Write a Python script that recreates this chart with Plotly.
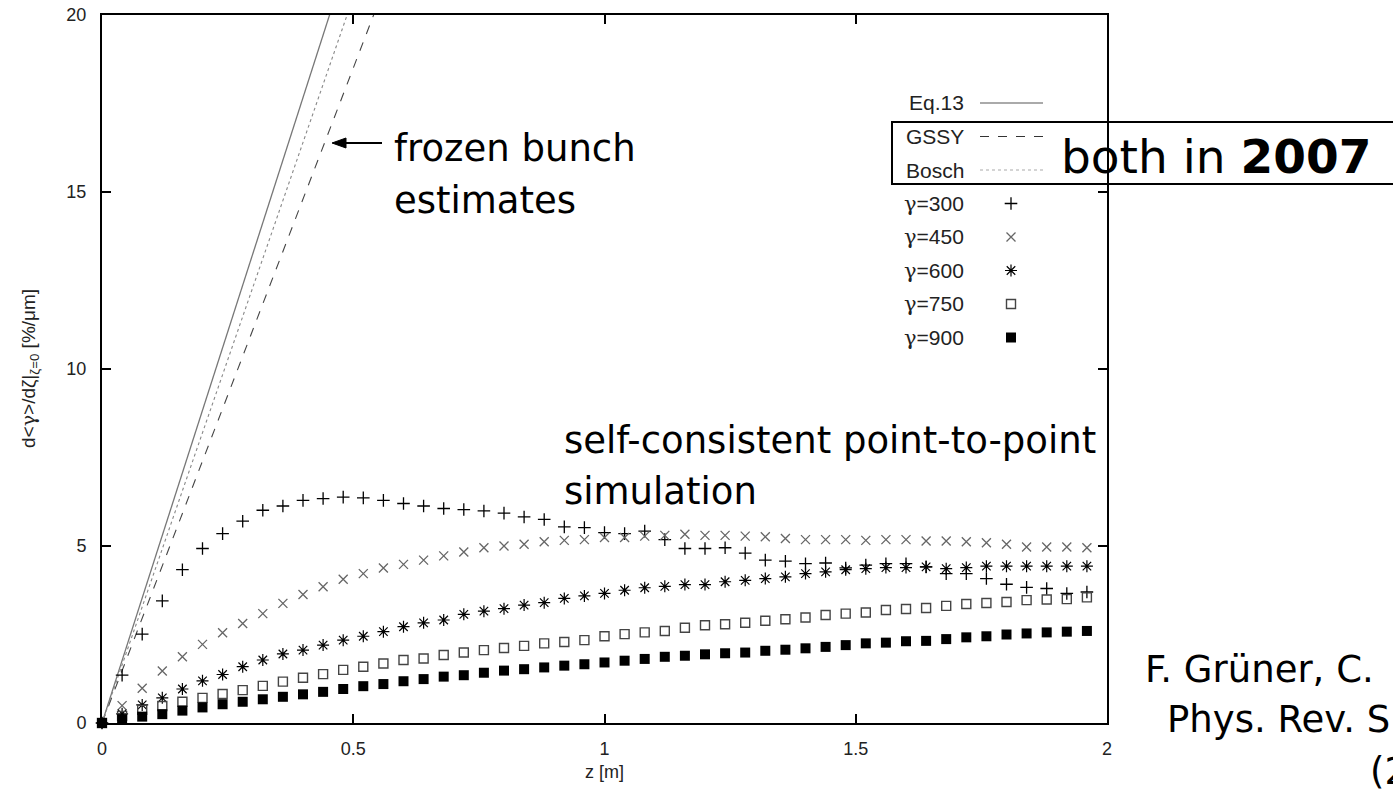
import plotly.graph_objects as go

# ---------------- data ----------------
z = [0.00, 0.04, 0.08, 0.12, 0.16, 0.20, 0.24, 0.28, 0.32, 0.36,
     0.40, 0.44, 0.48, 0.52, 0.56, 0.60, 0.64, 0.68, 0.72, 0.76,
     0.80, 0.84, 0.88, 0.92, 0.96, 1.00, 1.04, 1.08, 1.12, 1.16,
     1.20, 1.24, 1.28, 1.32, 1.36, 1.40, 1.44, 1.48, 1.52, 1.56,
     1.60, 1.64, 1.68, 1.72, 1.76, 1.80, 1.84, 1.88, 1.92, 1.96]

g300 = [0.00, 1.35, 2.51, 3.45, 4.33, 4.93, 5.35, 5.70, 6.01, 6.13,
        6.29, 6.34, 6.38, 6.36, 6.29, 6.20, 6.13, 6.06, 6.03, 5.99,
        5.93, 5.82, 5.75, 5.54, 5.52, 5.38, 5.35, 5.42, 5.18, 4.93,
        4.93, 4.95, 4.80, 4.60, 4.57, 4.50, 4.52, 4.38, 4.46, 4.50,
        4.50, 4.41, 4.22, 4.22, 4.08, 3.92, 3.83, 3.80, 3.66, 3.70]

g450 = [0.00, 0.49, 0.98, 1.47, 1.87, 2.22, 2.55, 2.81, 3.09, 3.38,
        3.63, 3.85, 4.06, 4.22, 4.38, 4.48, 4.60, 4.72, 4.83, 4.95,
        5.00, 5.05, 5.12, 5.16, 5.18, 5.24, 5.24, 5.28, 5.30, 5.33,
        5.30, 5.30, 5.28, 5.26, 5.21, 5.18, 5.18, 5.18, 5.16, 5.18,
        5.18, 5.14, 5.14, 5.12, 5.09, 5.05, 4.97, 4.97, 4.97, 4.95]

g600 = [0.00, 0.26, 0.51, 0.71, 0.96, 1.19, 1.37, 1.59, 1.78, 1.95,
        2.06, 2.20, 2.34, 2.45, 2.58, 2.72, 2.83, 2.91, 3.07, 3.16,
        3.23, 3.33, 3.40, 3.52, 3.59, 3.66, 3.75, 3.82, 3.86, 3.91,
        3.91, 3.99, 4.03, 4.08, 4.13, 4.22, 4.27, 4.33, 4.36, 4.39,
        4.39, 4.41, 4.36, 4.39, 4.43, 4.43, 4.43, 4.43, 4.43, 4.43]

g750 = [0.00, 0.20, 0.37, 0.48, 0.60, 0.71, 0.82, 0.93, 1.05, 1.17,
        1.28, 1.38, 1.50, 1.59, 1.68, 1.78, 1.82, 1.92, 1.99, 2.06,
        2.12, 2.18, 2.25, 2.29, 2.34, 2.45, 2.51, 2.56, 2.60, 2.69,
        2.76, 2.79, 2.83, 2.89, 2.93, 2.98, 3.05, 3.09, 3.12, 3.19,
        3.22, 3.25, 3.31, 3.36, 3.39, 3.42, 3.47, 3.49, 3.50, 3.55]

g900 = [0.00, 0.11, 0.18, 0.25, 0.35, 0.44, 0.53, 0.60, 0.67, 0.74,
        0.81, 0.88, 0.96, 1.04, 1.10, 1.18, 1.24, 1.31, 1.35, 1.42,
        1.48, 1.52, 1.57, 1.62, 1.66, 1.71, 1.76, 1.81, 1.87, 1.90,
        1.94, 1.97, 1.99, 2.04, 2.07, 2.11, 2.15, 2.20, 2.25, 2.27,
        2.31, 2.32, 2.37, 2.42, 2.45, 2.50, 2.53, 2.56, 2.58, 2.60]

# frozen-bunch estimates (straight lines from the origin)
z_line = [0.0, 0.6]
eq13 = [0.0, 26.5]
gssy = [0.0, 22.2]
bosch = [0.0, 24.6]

x_ticks = [0, 0.5, 1, 1.5, 2]
x_ticklabels = ["0", "0.5", "1", "1.5", "2"]
y_ticks = [0, 5, 10, 15, 20]
y_ticklabels = ["0", "5", "10", "15", "20"]

line_names = ["Eq.13", "GSSY", "Bosch"]
gamma_values = ["300", "450", "600", "750", "900"]

# ---------------- layout geometry (page pixels) ----------------
W, H = 1393, 792
PL, PR, PT, PB = 102, 1107, 15, 723


def px(x):
    return (x - PL) / (PR - PL)


def py(y):
    return (PB - y) / (PB - PT)


GAMMA = '<span style="font-family:DejaVu Serif">γ</span>'
SMALL_FONT = "Liberation Sans, Arial"

line_styles = [
    dict(color="#777777", width=1.3, dash="solid"),
    dict(color="#444444", width=1.1, dash="dash"),
    dict(color="#888888", width=1.1, dash="dot"),
]
legend_line_styles = [
    dict(color="#aaaaaa", width=2, dash="solid"),
    dict(color="#333333", width=1.2, dash="dash"),
    dict(color="#aaaaaa", width=1.2, dash="dot"),
]
marker_styles = [
    dict(symbol="cross-thin-open", size=9, color="black", line=dict(color="black", width=1.3)),
    dict(symbol="x-thin-open", size=9, color="#666666", line=dict(color="#666666", width=1.3)),
    dict(symbol="asterisk-open", size=10, color="black", line=dict(color="black", width=1.2)),
    dict(symbol="square-open", size=9, color="#444444", line=dict(color="#444444", width=1.4)),
    dict(symbol="square", size=10, color="black", line=dict(color="black", width=0)),
]

fig = go.Figure()

for ys, st, nm in zip([eq13, gssy, bosch], line_styles, line_names):
    fig.add_trace(go.Scatter(x=z_line, y=ys, mode="lines", line=st, name=nm,
                             showlegend=False, hoverinfo="skip"))

for ys, st, gv in zip([g300, g450, g600, g750, g900], marker_styles, gamma_values):
    fig.add_trace(go.Scatter(x=z, y=ys, mode="markers", marker=st, name="γ=" + gv,
                             showlegend=False, cliponaxis=False))

# ---------------- custom gnuplot-style key ----------------
KEY_TEXT_X = 966
KEY_SAMPLE_X0, KEY_SAMPLE_X1 = 980, 1043
KEY_MARK_X = 1011
KEY_ROW0 = 103
KEY_DY = 33.5

annotations = []
shapes = []

for i, nm in enumerate(line_names):
    yy = KEY_ROW0 + i * KEY_DY
    annotations.append(dict(xref="paper", yref="paper", x=px(KEY_TEXT_X), y=py(yy),
                            xanchor="right", yanchor="middle", showarrow=False, text=nm,
                            font=dict(family=SMALL_FONT, size=21, color="#222222")))
    shapes.append(dict(type="line", xref="paper", yref="paper",
                       x0=px(KEY_SAMPLE_X0), x1=px(KEY_SAMPLE_X1), y0=py(yy), y1=py(yy),
                       line=legend_line_styles[i]))

for j, gv in enumerate(gamma_values):
    yy = KEY_ROW0 + (j + 3) * KEY_DY
    annotations.append(dict(xref="paper", yref="paper", x=px(KEY_TEXT_X), y=py(yy),
                            xanchor="right", yanchor="middle", showarrow=False,
                            text=GAMMA + "=" + gv,
                            font=dict(family=SMALL_FONT, size=21, color="#222222")))
    fig.add_trace(go.Scatter(x=[KEY_MARK_X], y=[yy], xaxis="x2", yaxis="y2",
                             mode="markers", marker=marker_styles[j], showlegend=False,
                             hoverinfo="skip", cliponaxis=False))

# box around GSSY / Bosch, extending off the page
shapes.append(dict(type="rect", xref="paper", yref="paper",
                   x0=px(892), x1=px(1420), y0=py(184), y1=py(122),
                   line=dict(color="black", width=2), fillcolor="rgba(0,0,0,0)"))

# arrow pointing at the frozen-bunch lines (shaft + filled head)
ARROW_TIP_X, ARROW_TAIL_X, ARROW_Y = 332, 382, 143
shapes.append(dict(type="line", xref="paper", yref="paper",
                   x0=px(ARROW_TIP_X + 10), x1=px(ARROW_TAIL_X), y0=py(ARROW_Y), y1=py(ARROW_Y),
                   line=dict(color="black", width=2)))
shapes.append(dict(type="path", xref="paper", yref="paper",
                   path="M {:.5f} {:.5f} L {:.5f} {:.5f} L {:.5f} {:.5f} Z".format(
                       px(ARROW_TIP_X), py(ARROW_Y),
                       px(ARROW_TIP_X + 14), py(ARROW_Y - 5),
                       px(ARROW_TIP_X + 14), py(ARROW_Y + 5)),
                   fillcolor="black", line=dict(color="black", width=1)))

BIG = "DejaVu Sans"


def text_ann(txt, x, y, size, anchor="left"):
    return dict(xref="paper", yref="paper", x=px(x), y=py(y), xanchor=anchor,
                yanchor="middle", showarrow=False, text=txt,
                font=dict(family=BIG, size=size, color="black"))


annotations += [
    text_ann("frozen bunch", 392, 149, 37),
    text_ann("estimates", 392, 200, 37),
    text_ann("self-consistent point-to-point", 562, 440, 37),
    text_ann("simulation", 562, 491, 37),
    text_ann("both in <b>2007</b>", 1059, 156, 47),
    text_ann("F. Grüner, C.", 1143, 669, 37),
    text_ann("Phys. Rev. S", 1165, 719, 37),
    text_ann("(2", 1368, 771, 37),
]

# axis titles
annotations.append(dict(xref="paper", yref="paper", x=px(29), y=0.5, textangle=-90,
                        xanchor="center", yanchor="middle", showarrow=False,
                        text="d&lt;" + GAMMA + "&gt;/dζ|<sub>ζ=0</sub> [%/μm]",
                        font=dict(family=SMALL_FONT, size=19, color="#222222")))
annotations.append(dict(xref="paper", yref="paper", x=0.5, y=py(772),
                        xanchor="center", yanchor="middle", showarrow=False,
                        text="z [m]",
                        font=dict(family=SMALL_FONT, size=18, color="#222222")))

axis_common = dict(showline=True, linewidth=2, linecolor="black", mirror="ticks",
                   ticks="inside", ticklen=9, tickwidth=1.5, tickcolor="black",
                   showgrid=False, zeroline=False,
                   tickfont=dict(family=SMALL_FONT, size=18, color="#222222"))

fig.update_layout(
    width=W, height=H,
    margin=dict(l=PL, r=W - PR, t=PT, b=H - PB, autoexpand=False),
    paper_bgcolor="white", plot_bgcolor="white",
    showlegend=False,
    xaxis=dict(range=[0, 2], tickvals=x_ticks, ticktext=x_ticklabels,
               ticklabelstandoff=8, **axis_common),
    yaxis=dict(range=[0, 20], tickvals=y_ticks, ticktext=y_ticklabels,
               ticklabelstandoff=10, **axis_common),
    xaxis2=dict(range=[PL, PR], overlaying="x", visible=False, fixedrange=True),
    yaxis2=dict(range=[PB, PT], overlaying="y", visible=False, fixedrange=True),
    annotations=annotations,
    shapes=shapes,
)

fig.write_html("out.html")
